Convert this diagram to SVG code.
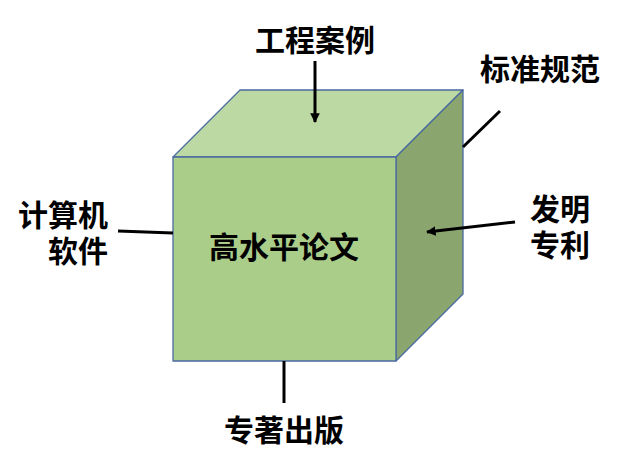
<svg xmlns="http://www.w3.org/2000/svg" width="626" height="466" viewBox="0 0 626 466">
<defs>
<style>
.face{stroke:#4a6aa0;stroke-width:1.3;stroke-linejoin:round}
.lbl{font-family:"Noto Sans CJK SC","Noto Sans",sans-serif;font-weight:bold;font-size:30px;fill:#000;dominant-baseline:central}
.conn{stroke:#000;stroke-width:3;fill:none}
</style>
<marker id="ah" viewBox="0 0 10 10" refX="9" refY="5" markerWidth="3.2" markerHeight="3.2" orient="auto" markerUnits="strokeWidth">
<path d="M0,0 L10,5 L0,10 z" fill="#000"/>
</marker>
</defs>
<rect width="626" height="466" fill="#fff"/>
<g id="cube">
<polygon class="face" points="173,157 240,90 463,90 396,157" fill="#bdd9a3"/>
<polygon class="face" points="396,157 463,90 463,294 396,361" fill="#8aa66e"/>
<rect class="face" x="173" y="157" width="223" height="204" fill="#abcd8a"/>
<text class="lbl" x="284" y="245" text-anchor="middle">高水平论文</text>
</g>
<g id="connectors">
<line class="conn" x1="315" y1="61" x2="315" y2="122" marker-end="url(#ah)"/>
<line class="conn" x1="515" y1="222" x2="427" y2="232" marker-end="url(#ah)"/>
<line class="conn" x1="118" y1="231" x2="173" y2="233"/>
<line class="conn" x1="284" y1="361" x2="284" y2="403"/>
<line class="conn" x1="463" y1="147" x2="500" y2="111"/>
</g>
<g id="n-case"><text class="lbl" x="315" y="38" text-anchor="middle">工程案例</text></g>
<g id="n-standard"><text class="lbl" x="540" y="67" text-anchor="middle">标准规范</text></g>
<g id="n-software"><text class="lbl" text-anchor="end"><tspan x="108" y="213">计算机</tspan><tspan x="108" y="249">软件</tspan></text></g>
<g id="n-patent"><text class="lbl"><tspan x="530" y="207">发明</tspan><tspan x="530" y="243">专利</tspan></text></g>
<g id="n-book"><text class="lbl" x="284" y="428" text-anchor="middle">专著出版</text></g>
</svg>
